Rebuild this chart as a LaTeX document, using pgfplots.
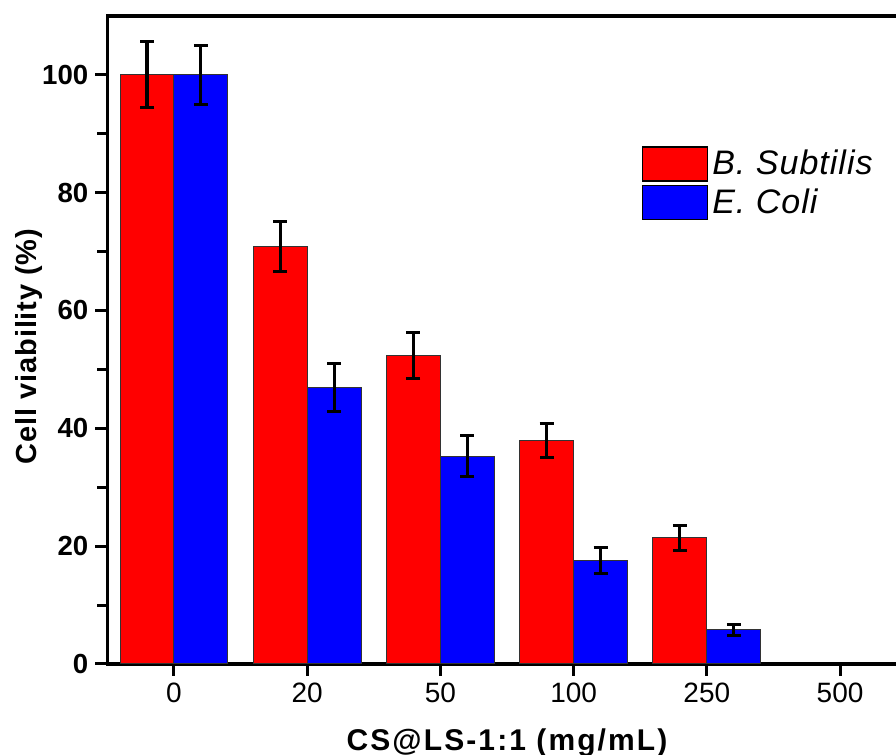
\documentclass[border=0pt]{standalone}
\usepackage{fontspec}
\setmainfont{Liberation Sans}
\usepackage{pgfplots}
\pgfplotsset{compat=1.18}
\definecolor{barred}{RGB}{255,0,0}
\definecolor{barblue}{RGB}{0,0,255}
\begin{document}
\begin{tikzpicture}
\begin{axis}[
  scale only axis,
  width=399.6pt, height=324pt,
  xmin=-0.5, xmax=5.5, ymin=0, ymax=110,
  ybar=0pt, bar width=0.405,
  xtick={0,1,2,3,4,5}, xticklabels={0,20,50,100,250,500},
  ytick={0,20,40,60,80,100}, minor ytick={10,30,50,70,90},
  tick pos=left, tick align=outside,
  major tick length=6pt, minor tick length=5pt,
  tick style={black, line width=1.5pt},
  axis line style={line width=1.8pt},
  /pgf/number format/assume math mode=true,
  yticklabel style={font=\bfseries\fontsize{13.8}{15}\selectfont},
  xticklabel style={font=\fontsize{14}{16}\selectfont},
  xlabel={\bfseries\fontsize{15}{17}\selectfont\addfontfeature{LetterSpace=7}CS@LS-1:1 (mg/mL)},
  xlabel style={at={(axis description cs:0.5,0)}, anchor=base, yshift=-43.5pt},
  ylabel={\bfseries\fontsize{14.5}{16}\selectfont\addfontfeature{LetterSpace=3}Cell viability (\%)},
  ylabel style={at={(axis description cs:-0.089,0.49)}, anchor=base},
  legend image code/.code={\draw[#1, draw=black, line width=0.8pt] (0pt,-8.5pt) rectangle (32.5pt,8.5pt);},
  legend style={draw=none, fill=none, at={(rel axis cs:0.668,0.80)}, anchor=north west,
    inner sep=0pt, row sep=1.5pt, font=\itshape\fontsize{17}{19}\selectfont\addfontfeature{LetterSpace=3},
    nodes={inner sep=2pt}},
  legend cell align=left,
  error bars/y dir=both, error bars/y explicit,
  error bars/error bar style={line width=1.5pt, black},
  error bars/error mark options={rotate=90, mark size=3.5pt, line width=1.5pt, black},
]
\addplot[fill=barred, draw=black!80, line width=0.5pt]
  table[x=x, y=y, y error=e] {
  x y e
  0 100 5.6
  1 70.9 4.2
  2 52.3 3.9
  3 38.0 2.9
  4 21.4 2.1
  };
\addlegendentry{B. Subtilis}
\addplot[fill=barblue, draw=black!80, line width=0.5pt]
  table[x=x, y=y, y error=e] {
  x y e
  0 100 5.0
  1 46.9 4.1
  2 35.3 3.4
  3 17.5 2.2
  4 5.8 0.9
  };
\addlegendentry{E. Coli}
\coordinate (bl) at (axis cs:-1.306,-15.42);
\coordinate (tr) at (axis cs:5.420,112.7);
\end{axis}
\pgfresetboundingbox
\useasboundingbox (bl) rectangle (tr);
\end{tikzpicture}
\end{document}
